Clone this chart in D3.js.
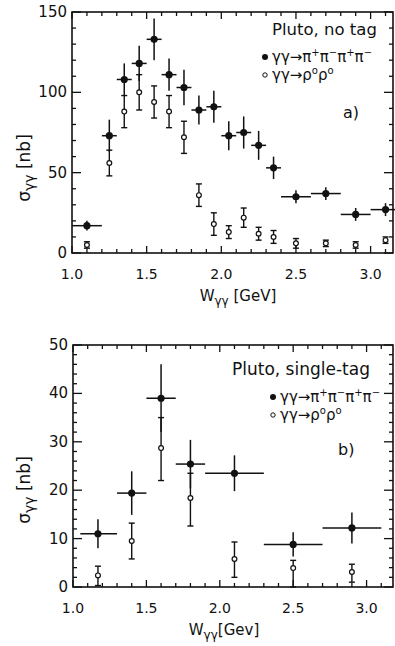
<!DOCTYPE html>
<html>
<head>
<meta charset="utf-8">
<script src="https://cdn.jsdelivr.net/npm/d3@7"></script>
<style>
  body { margin: 0; background: #fff; }
  svg { display: block; font-family: 'DejaVu Sans', sans-serif; }
</style>
</head>
<body>
<div id="app"></div>
<script>
// panel a) Pluto, no tag
const noTagX = [1.1, 1.25, 1.35, 1.45, 1.55, 1.65, 1.75, 1.85, 1.95, 2.05, 2.15, 2.25, 2.35, 2.5, 2.7, 2.9, 3.1];
const noTagBinLo = [1.0, 1.2, 1.3, 1.4, 1.5, 1.6, 1.7, 1.8, 1.9, 2.0, 2.1, 2.2, 2.3, 2.4, 2.6, 2.8, 3.0];
const noTagBinHi = [1.2, 1.3, 1.4, 1.5, 1.6, 1.7, 1.8, 1.9, 2.0, 2.1, 2.2, 2.3, 2.4, 2.6, 2.8, 3.0, 3.2];
const noTag4pi = [17, 73, 108, 118, 133, 111, 103, 89, 91, 73, 75, 67, 53, 35, 37, 24, 27];
const noTag4piErr = [3, 10, 10, 11, 13, 10, 11, 9, 10, 9, 10, 9, 7, 4, 4, 4, 4];
const noTagRho = [5, 56, 88, 100, 94, 88, 72, 36, 18, 13, 22, 12, 10, 6, 6, 5, 8];
const noTagRhoErr = [2, 8, 10, 11, 10, 10, 10, 7, 7, 4, 6, 4, 4, 3, 2, 2, 2];

// panel b) Pluto, single-tag
const singleX = [1.17, 1.4, 1.6, 1.8, 2.1, 2.5, 2.9];
const singleBinLo = [1.05, 1.3, 1.5, 1.7, 1.9, 2.3, 2.7];
const singleBinHi = [1.3, 1.5, 1.7, 1.9, 2.3, 2.7, 3.1];
const single4pi = [11, 19.4, 39, 25.4, 23.5, 8.8, 12.2];
const single4piErr = [3, 4.5, 7, 5, 3.7, 2.5, 3.2];
const singleRho = [2.4, 9.5, 28.7, 18.4, 5.8, 3.9, 3.1];
const singleRhoLo = [0.3, 5.8, 22, 12.6, 2, 0, 1];
const singleRhoHi = [4.3, 13.2, 35, 23.5, 9.3, 5.5, 4.7];

const xTickLabels = ['1.0', '1.5', '2.0', '2.5', '3.0'];
const noTagYTicks = [0, 50, 100, 150];
const singleYTicks = [0, 10, 20, 30, 40, 50];

const width = 395;
const height = 646;
const ink = '#111';

const svg = d3.select('#app').append('svg')
  .attr('width', width)
  .attr('height', height);

const drawPanel = p => {
  const x = d3.scaleLinear().domain(p.xDomain).range([p.left, p.right]);
  const y = d3.scaleLinear().domain(p.yDomain).range([p.bottom, p.top]);
  const g = svg.append('g');

  // frame
  g.append('rect')
    .attr('x', p.left).attr('y', p.top)
    .attr('width', p.right - p.left).attr('height', p.bottom - p.top)
    .attr('fill', 'none').attr('stroke', ink).attr('stroke-width', 1.6);

  // x ticks, bottom and top, pointing inward
  const xt = d3.range(10, Math.floor(p.xDomain[1] * 10) + 1).map(v => v / 10);
  xt.forEach(v => {
    const major = Math.abs(v * 2 - Math.round(v * 2)) < 1e-6;
    const len = major ? 7 : 4;
    g.append('line').attr('x1', x(v)).attr('x2', x(v))
      .attr('y1', p.bottom).attr('y2', p.bottom - len)
      .attr('stroke', ink).attr('stroke-width', 1.3);
    g.append('line').attr('x1', x(v)).attr('x2', x(v))
      .attr('y1', p.top).attr('y2', p.top + len)
      .attr('stroke', ink).attr('stroke-width', 1.3);
  });

  // y ticks, left and right
  const yt = d3.range(0, p.yDomain[1] + 1e-6, p.yMinor);
  yt.forEach(v => {
    const major = Math.abs(v / p.yMajor - Math.round(v / p.yMajor)) < 1e-6;
    const len = major ? 9 : 4;
    g.append('line').attr('x1', p.left).attr('x2', p.left + len)
      .attr('y1', y(v)).attr('y2', y(v))
      .attr('stroke', ink).attr('stroke-width', 1.3);
    g.append('line').attr('x1', p.right).attr('x2', p.right - len)
      .attr('y1', y(v)).attr('y2', y(v))
      .attr('stroke', ink).attr('stroke-width', 1.3);
  });

  // tick labels
  g.selectAll('.xl').data(xTickLabels).enter().append('text')
    .attr('x', d => x(+d)).attr('y', p.bottom + 26)
    .attr('text-anchor', 'middle').attr('font-size', 14).attr('fill', ink)
    .text(d => d);
  g.selectAll('.yl').data(p.yTicks).enter().append('text')
    .attr('x', p.left - 5).attr('y', d => y(d) + 5)
    .attr('text-anchor', 'end').attr('font-size', 15).attr('fill', ink)
    .text(d => d);

  // axis titles
  const xt2 = g.append('text')
    .attr('x', p.xTitleX).attr('y', p.bottom + 48)
    .attr('text-anchor', 'middle').attr('font-size', 15).attr('fill', ink);
  xt2.append('tspan').text('W');
  xt2.append('tspan').attr('font-size', 12).attr('dy', 4).text('γγ');
  xt2.append('tspan').attr('dy', -4).text(p.xTitleUnit);

  const yt2 = g.append('text')
    .attr('transform', `translate(${p.yTitleX},${p.yTitleY}) rotate(-90)`)
    .attr('text-anchor', 'middle').attr('font-size', 17).attr('fill', ink);
  yt2.append('tspan').text('σ');
  yt2.append('tspan').attr('font-size', 14).attr('dy', 4).text('γγ');
  yt2.append('tspan').attr('dy', -4).text(' [nb]');

  // rho rho points: open circles with capped error bars
  p.rho.forEach(d => {
    g.append('line').attr('x1', x(d.x)).attr('x2', x(d.x))
      .attr('y1', y(d.lo)).attr('y2', y(d.hi))
      .attr('stroke', ink).attr('stroke-width', 1.4);
    [d.lo, d.hi].forEach(v => g.append('line')
      .attr('x1', x(d.x) - 3).attr('x2', x(d.x) + 3)
      .attr('y1', y(v)).attr('y2', y(v))
      .attr('stroke', ink).attr('stroke-width', 1.4));
    g.append('circle').attr('cx', x(d.x)).attr('cy', y(d.y)).attr('r', 2.4)
      .attr('fill', '#fff').attr('stroke', ink).attr('stroke-width', 1.2);
  });

  // 4pi points: filled circles with crosses
  p.full.forEach(d => {
    g.append('line').attr('x1', x(d.xlo)).attr('x2', x(d.xhi))
      .attr('y1', y(d.y)).attr('y2', y(d.y))
      .attr('stroke', ink).attr('stroke-width', 1.5);
    g.append('line').attr('x1', x(d.x)).attr('x2', x(d.x))
      .attr('y1', y(d.y - d.e)).attr('y2', y(d.y + d.e))
      .attr('stroke', ink).attr('stroke-width', 1.5);
    g.append('circle').attr('cx', x(d.x)).attr('cy', y(d.y)).attr('r', 3.6)
      .attr('fill', ink);
  });

  // legend
  g.append('text').attr('x', p.legendX).attr('y', p.legendY)
    .attr('font-size', p.legendSize).attr('fill', ink).text(p.legendTitle);

  g.append('circle').attr('cx', p.dotX).attr('cy', p.legendY + 22).attr('r', 3)
    .attr('fill', ink);
  const l1 = g.append('text').attr('x', p.dotX + 7).attr('y', p.legendY + 27)
    .attr('font-size', 15).attr('fill', ink);
  l1.append('tspan').text('γγ→π');
  l1.append('tspan').attr('font-size', 10).attr('dy', -6).text('+');
  l1.append('tspan').attr('dy', 6).text('π');
  l1.append('tspan').attr('font-size', 10).attr('dy', -6).text('−');
  l1.append('tspan').attr('dy', 6).text('π');
  l1.append('tspan').attr('font-size', 10).attr('dy', -6).text('+');
  l1.append('tspan').attr('dy', 6).text('π');
  l1.append('tspan').attr('font-size', 10).attr('dy', -6).text('−');

  g.append('circle').attr('cx', p.dotX).attr('cy', p.legendY + 40).attr('r', 2.2)
    .attr('fill', '#fff').attr('stroke', ink).attr('stroke-width', 1);
  const l2 = g.append('text').attr('x', p.dotX + 7).attr('y', p.legendY + 45)
    .attr('font-size', 15).attr('fill', ink);
  l2.append('tspan').text('γγ→ρ');
  l2.append('tspan').attr('font-size', 10).attr('dy', -6).text('o');
  l2.append('tspan').attr('dy', 6).text('ρ');
  l2.append('tspan').attr('font-size', 10).attr('dy', -6).text('o');

  g.append('text').attr('x', p.tagX).attr('y', p.tagY)
    .attr('font-size', 16).attr('fill', ink).text(p.tag);
};

drawPanel({
  left: 72, right: 393, top: 12, bottom: 253,
  xDomain: [1.0, 3.15], yDomain: [0, 150],
  yMinor: 10, yMajor: 50, yTicks: noTagYTicks,
  xTitleX: 238, xTitleUnit: ' [GeV]',
  yTitleX: 30, yTitleY: 168,
  full: noTagX.map((v, i) => ({ x: v, xlo: noTagBinLo[i], xhi: noTagBinHi[i], y: noTag4pi[i], e: noTag4piErr[i] })),
  rho: noTagX.map((v, i) => ({ x: v, y: noTagRho[i], lo: noTagRho[i] - noTagRhoErr[i], hi: noTagRho[i] + noTagRhoErr[i] })),
  legendTitle: 'Pluto, no tag', legendSize: 16.5, legendX: 272, legendY: 35, dotX: 265,
  tag: 'a)', tagX: 343, tagY: 118
});

drawPanel({
  left: 73, right: 393, top: 345, bottom: 587,
  xDomain: [1.0, 3.18], yDomain: [0, 50],
  yMinor: 2, yMajor: 10, yTicks: singleYTicks,
  xTitleX: 224, xTitleUnit: '[Gev]',
  yTitleX: 30, yTitleY: 490,
  full: singleX.map((v, i) => ({ x: v, xlo: singleBinLo[i], xhi: singleBinHi[i], y: single4pi[i], e: single4piErr[i] })),
  rho: singleX.map((v, i) => ({ x: v, y: singleRho[i], lo: singleRhoLo[i], hi: singleRhoHi[i] })),
  legendTitle: 'Pluto, single-tag', legendSize: 17, legendX: 232, legendY: 375, dotX: 273,
  tag: 'b)', tagX: 338, tagY: 455
});
</script>
</body>
</html>
